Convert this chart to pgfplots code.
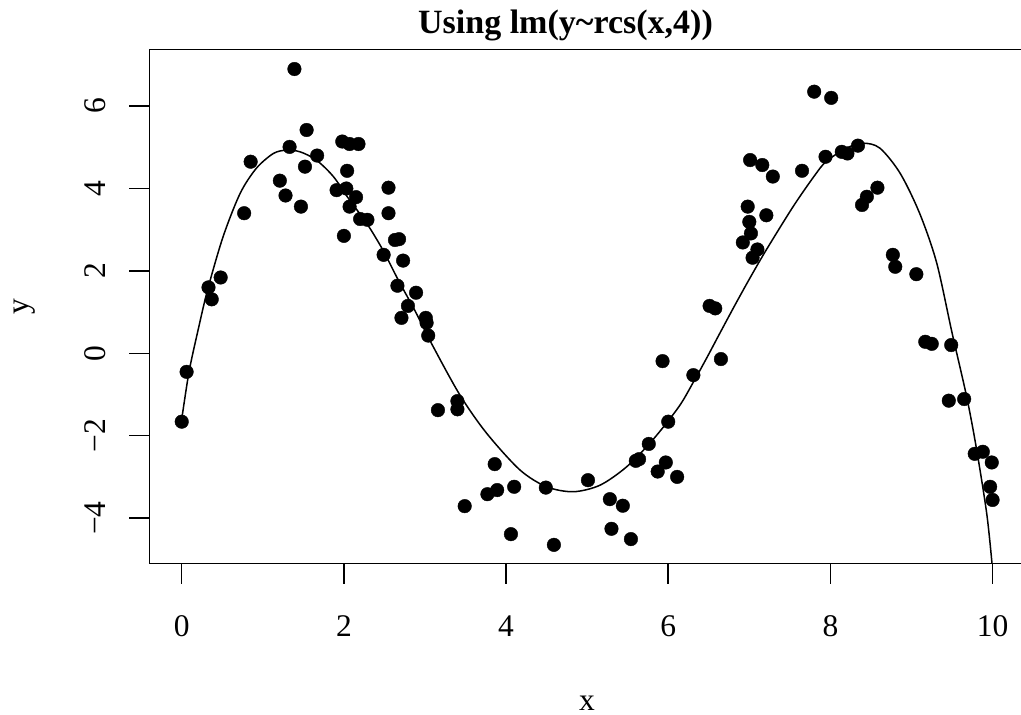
\documentclass[border=0pt]{standalone}
\usepackage{fontspec}
\setmainfont{Liberation Serif}
\usepackage{pgfplots}
\pgfplotsset{compat=1.18}

% Observed sample
\pgfplotstableread{
x y
0.00 -1.66
0.06 -0.45
0.33 1.60
0.37 1.31
0.48 1.84
0.77 3.40
0.85 4.65
1.21 4.19
1.28 3.83
1.33 5.01
1.39 6.90
1.47 3.56
1.52 4.53
1.54 5.42
1.67 4.80
1.91 3.96
1.98 5.14
2.00 2.85
2.03 4.00
2.04 4.43
2.07 5.08
2.07 3.56
2.15 3.79
2.18 5.08
2.20 3.26
2.29 3.24
2.49 2.39
2.55 4.02
2.55 3.40
2.63 2.75
2.66 1.64
2.68 2.77
2.71 0.86
2.73 2.25
2.79 1.15
2.89 1.47
3.01 0.86
3.02 0.74
3.04 0.43
3.16 -1.38
3.40 -1.16
3.40 -1.36
3.49 -3.71
3.77 -3.42
3.86 -2.69
3.89 -3.32
4.06 -4.39
4.10 -3.24
4.49 -3.26
4.59 -4.65
5.01 -3.08
5.28 -3.54
5.30 -4.26
5.44 -3.70
5.54 -4.51
5.60 -2.61
5.64 -2.57
5.76 -2.20
5.87 -2.87
5.93 -0.19
5.97 -2.65
6.00 -1.66
6.11 -3.00
6.31 -0.53
6.51 1.15
6.58 1.09
6.65 -0.14
6.92 2.69
6.98 3.56
7.00 3.19
7.01 4.69
7.02 2.91
7.04 2.32
7.10 2.52
7.16 4.57
7.21 3.35
7.29 4.29
7.65 4.43
7.80 6.35
7.94 4.77
8.01 6.20
8.14 4.89
8.21 4.85
8.34 5.04
8.39 3.60
8.45 3.80
8.58 4.02
8.77 2.39
8.80 2.10
9.06 1.92
9.17 0.28
9.25 0.23
9.46 -1.15
9.49 0.20
9.65 -1.11
9.78 -2.44
9.88 -2.39
9.99 -2.65
9.97 -3.24
10.00 -3.56
}\pointsdata

% Fitted restricted cubic spline, evaluated along x
\pgfplotstableread{
x y
0.00 -1.60
0.09 -0.45
0.20 0.55
0.32 1.55
0.51 2.83
0.72 3.88
0.92 4.49
1.13 4.85
1.29 4.93
1.46 4.89
1.66 4.69
1.87 4.29
2.07 3.72
2.28 3.16
2.48 2.51
2.67 1.78
2.88 1.02
3.08 0.24
3.43 -1.01
3.76 -1.94
4.17 -2.83
4.50 -3.24
4.83 -3.36
5.16 -3.20
5.49 -2.75
5.81 -2.10
6.13 -1.30
6.31 -0.70
6.47 -0.13
6.64 0.50
6.82 1.16
7.00 1.80
7.20 2.48
7.54 3.56
7.80 4.30
7.95 4.66
8.20 4.98
8.40 5.10
8.61 4.98
8.86 4.37
9.10 3.40
9.31 2.20
9.50 0.50
9.68 -1.05
9.80 -2.30
9.93 -3.92
10.00 -5.25
}\fitdata

\begin{document}
\begin{tikzpicture}[x=1pt,y=1pt]
\begin{axis}[
  at={(149.3pt,151.3pt)}, anchor=south west,
  scale only axis, width=875.7pt, height=514.4pt,
  xmin=-0.4, xmax=10.4, ymin=-5.107, ymax=7.379,
  axis line style={line width=1.5pt},
  xtick={0,2,4,6,8,10}, xticklabels={0,2,4,6,8,10},
  ytick={-4,-2,0,2,4,6}, yticklabels={−4,−2,0,2,4,6},
  xtick pos=left, ytick pos=left,
  tick align=outside,
  major tick length=20pt,
  every tick/.style={black, line width=1.5pt},
  ticklabel style={font=\fontsize{31.5}{36}\selectfont},
  xticklabel style={anchor=base, yshift=-52.8pt},
  yticklabel style={xshift=-24.3pt, rotate=90, anchor=base},
  clip=true,
]
\addplot[black, line width=1.5pt, smooth] table[x=x, y=y] {\fitdata};
\addplot[only marks, mark=*, mark size=6.8pt,
  mark options={fill=black, draw=black, line width=0.4pt}]
  table[x=x, y=y] {\pointsdata};
\end{axis}
\node[anchor=base, font=\bfseries\fontsize{34}{40}\selectfont]
  at (565.5, 681.7) {Using lm(y\textasciitilde rcs(x,4))};
\node[anchor=base, font=\fontsize{31.5}{36}\selectfont] at (587, 4.5) {x};
\node[anchor=base, rotate=90, font=\fontsize{31.5}{36}\selectfont] at (28, 408.5) {y};
\pgfresetboundingbox
\path[use as bounding box] (0,0) rectangle (1021,715);
\end{tikzpicture}
\end{document}
